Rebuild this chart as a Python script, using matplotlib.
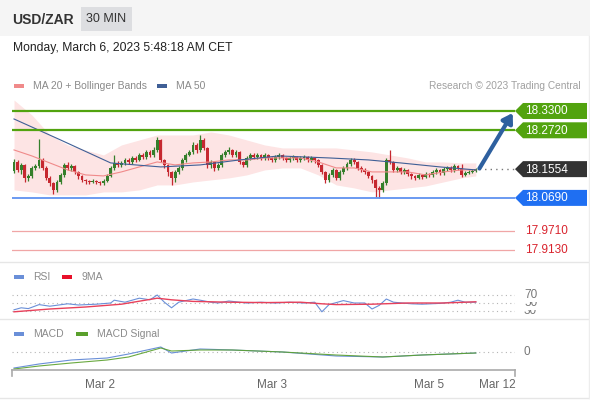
import numpy as np
import matplotlib.pyplot as plt
from matplotlib.patches import Polygon, Rectangle
from matplotlib.transforms import blended_transform_factory

plt.rcParams['font.family'] = ['Liberation Sans', 'DejaVu Sans']

# USD/ZAR 30 min candles
first_open = 18.150
closes = [18.177, 18.153, 18.168, 18.129, 18.135, 18.159, 18.165, 18.183, 18.159, 18.129,
          18.114, 18.093, 18.117, 18.138, 18.168, 18.159, 18.165, 18.147, 18.135, 18.123,
          18.120, 18.117, 18.120, 18.117, 18.114, 18.120, 18.135, 18.159, 18.174, 18.168,
          18.174, 18.183, 18.177, 18.189, 18.183, 18.198, 18.192, 18.207, 18.198, 18.213,
          18.243, 18.183, 18.168, 18.147, 18.129, 18.147, 18.159, 18.183, 18.198, 18.207,
          18.228, 18.213, 18.243, 18.219, 18.168, 18.177, 18.159, 18.168, 18.198, 18.207,
          18.213, 18.198, 18.207, 18.177, 18.168, 18.189, 18.198, 18.192, 18.198, 18.189,
          18.198, 18.189, 18.183, 18.192, 18.198, 18.189, 18.183, 18.189, 18.192, 18.183,
          18.189, 18.192, 18.183, 18.189, 18.183, 18.168, 18.147, 18.123, 18.138, 18.153,
          18.129, 18.147, 18.159, 18.171, 18.183, 18.177, 18.159, 18.153, 18.147, 18.135,
          18.123, 18.099, 18.093, 18.114, 18.183, 18.177, 18.153, 18.159, 18.147, 18.153,
          18.141, 18.135, 18.129, 18.138, 18.132, 18.141, 18.138, 18.147, 18.153, 18.144,
          18.156, 18.159, 18.153, 18.165, 18.159, 18.138, 18.144, 18.147, 18.150, 18.1554]
highs = [18.186, 18.183, 18.174, 18.171, 18.141, 18.165, 18.171, 18.246, 18.189, 18.165,
         18.135, 18.117, 18.123, 18.144, 18.174, 18.177, 18.171, 18.168, 18.150, 18.138,
         18.126, 18.123, 18.126, 18.123, 18.120, 18.126, 18.141, 18.165, 18.198, 18.180,
         18.180, 18.189, 18.189, 18.195, 18.195, 18.204, 18.204, 18.213, 18.213, 18.222,
         18.252, 18.246, 18.186, 18.171, 18.150, 18.153, 18.165, 18.189, 18.204, 18.213,
         18.237, 18.234, 18.258, 18.249, 18.222, 18.183, 18.180, 18.174, 18.204, 18.213,
         18.222, 18.216, 18.213, 18.210, 18.180, 18.195, 18.204, 18.204, 18.204, 18.201,
         18.204, 18.201, 18.192, 18.198, 18.204, 18.201, 18.192, 18.195, 18.198, 18.195,
         18.195, 18.198, 18.195, 18.195, 18.192, 18.186, 18.171, 18.150, 18.144, 18.159,
         18.156, 18.153, 18.165, 18.177, 18.189, 18.189, 18.180, 18.165, 18.159, 18.150,
         18.138, 18.126, 18.105, 18.120, 18.189, 18.213, 18.180, 18.165, 18.162, 18.159,
         18.156, 18.144, 18.138, 18.144, 18.141, 18.147, 18.144, 18.153, 18.159, 18.156,
         18.162, 18.165, 18.165, 18.171, 18.168, 18.171, 18.150, 18.153, 18.156, 18.159]
lows = [18.144, 18.147, 18.141, 18.117, 18.120, 18.129, 18.153, 18.159, 18.153, 18.123,
        18.105, 18.081, 18.087, 18.111, 18.132, 18.153, 18.150, 18.141, 18.126, 18.117,
        18.111, 18.111, 18.114, 18.111, 18.108, 18.108, 18.117, 18.132, 18.153, 18.162,
        18.162, 18.168, 18.171, 18.171, 18.177, 18.180, 18.186, 18.186, 18.192, 18.192,
        18.207, 18.177, 18.159, 18.135, 18.108, 18.117, 18.141, 18.153, 18.177, 18.195,
        18.201, 18.204, 18.207, 18.213, 18.159, 18.159, 18.150, 18.153, 18.162, 18.192,
        18.201, 18.192, 18.192, 18.171, 18.162, 18.162, 18.183, 18.186, 18.186, 18.183,
        18.183, 18.183, 18.177, 18.177, 18.186, 18.183, 18.177, 18.177, 18.183, 18.177,
        18.177, 18.183, 18.177, 18.177, 18.174, 18.162, 18.141, 18.114, 18.117, 18.132,
        18.123, 18.123, 18.141, 18.153, 18.165, 18.171, 18.153, 18.147, 18.141, 18.129,
        18.114, 18.072, 18.069, 18.087, 18.108, 18.171, 18.147, 18.147, 18.141, 18.141,
        18.135, 18.126, 18.123, 18.126, 18.126, 18.129, 18.132, 18.132, 18.141, 18.138,
        18.138, 18.150, 18.147, 18.147, 18.153, 18.132, 18.135, 18.141, 18.144, 18.147]

# MA 20 + Bollinger Bands
bb_idx = [0, 5, 10, 15, 20, 25, 30, 35, 40, 45, 50, 55, 60, 65, 70, 75, 80, 85, 90, 95,
          100, 105, 110, 115, 120, 125, 129]
ma20 = [18.213, 18.195, 18.174, 18.153, 18.138, 18.135, 18.147, 18.162, 18.177, 18.168,
        18.174, 18.177, 18.183, 18.183, 18.189, 18.189, 18.189, 18.177, 18.159, 18.159,
        18.147, 18.147, 18.147, 18.138, 18.147, 18.153, 18.153]
bb_up = [18.363, 18.318, 18.258, 18.228, 18.213, 18.198, 18.228, 18.243, 18.258, 18.258,
         18.258, 18.267, 18.258, 18.243, 18.228, 18.219, 18.219, 18.219, 18.219, 18.213,
         18.207, 18.198, 18.189, 18.177, 18.177, 18.174, 18.174]
bb_lo = [18.093, 18.087, 18.078, 18.078, 18.078, 18.087, 18.087, 18.093, 18.108, 18.108,
         18.117, 18.123, 18.129, 18.138, 18.153, 18.159, 18.159, 18.138, 18.108, 18.099,
         18.087, 18.093, 18.099, 18.105, 18.117, 18.129, 18.135]

# MA 50
ma50_idx = [0, 13, 27, 41, 52, 63, 74, 88, 99, 108, 119, 129]
ma50 = [18.306, 18.243, 18.174, 18.162, 18.168, 18.183, 18.195, 18.189, 18.183, 18.174,
        18.162, 18.153]

res_levels = [18.3300, 18.2720]
sup_level = 18.0690
low_levels = [17.9710, 17.9130]
last_price = 18.1554

# RSI and its 9MA
rsi_idx = [0, 2, 4, 7, 10, 15, 18, 23, 27, 28, 31, 35, 38, 40, 42, 44, 46, 50, 52, 55,
           57, 60, 65, 69, 73, 77, 81, 84, 86, 88, 92, 95, 98, 100, 102, 104, 106, 111,
           114, 119, 122, 124, 126, 129]
rsi = [33, 38, 36, 46, 42, 48, 45, 47, 50, 57, 52, 62, 58, 70, 52, 38, 52, 60, 57, 52,
       50, 55, 50, 52, 50, 52, 50, 52, 28, 46, 56, 50, 50, 35, 44, 60, 52, 48,
       47, 49, 52, 57, 52, 52]
rsi_ma_idx = [0, 10, 20, 30, 40, 44, 50, 60, 70, 80, 86, 90, 100, 110, 120, 129]
rsi_ma = [28, 35, 40, 47, 62, 58, 54, 52, 51, 52, 48, 46, 47, 50, 50, 53]

# MACD
macd_idx = [0, 7, 16, 26, 32, 41, 44, 52, 61, 75, 90, 103, 114, 129]
macd = [-0.016, -0.012, -0.008, -0.006, -0.002, 0.005, -0.001, 0.003, 0.002, 0.000,
        -0.004, -0.005, -0.003, -0.001]
macd_sig = [-0.017, -0.014, -0.011, -0.008, -0.005, 0.004, 0.001, 0.002, 0.002, 0.000,
            -0.003, -0.005, -0.003, -0.001]

day_ticks = [24, 72, 116, 135]
day_labels = ['Mar 2', 'Mar 3', 'Mar 5', 'Mar 12']

W, H = 590, 400
GREEN, RED = '#357f2b', '#c62830'
LVL_GREEN = '#52a30f'
GREY_TXT = '#8a8a8a'

fig = plt.figure(figsize=(W / 100, H / 100), dpi=100)
fig.patch.set_facecolor('white')


def box(y0, y1):
    return [12 / W, 1 - y1 / H, 503 / W, (y1 - y0) / H]


xlim = (-0.56, 139.94)

# main price panel
ax = fig.add_axes(box(95, 260))
ax.set_xlim(*xlim)
ax.set_ylim(17.8825, 18.378)
ax.axis('off')

x = np.arange(len(closes))
opens = np.array([first_open] + closes[:-1])
c = np.array(closes)
up = c >= opens
colors = np.where(up, GREEN, RED)

ax.fill_between(bb_idx, bb_lo, bb_up, color='#fde4e4', lw=0, zorder=1)
ax.vlines(x, lows, highs, colors=colors, lw=0.9, zorder=3)
body_lo = np.minimum(opens, c)
body_h = np.maximum(np.abs(c - opens), 0.002)
ax.bar(x, body_h, bottom=body_lo, width=0.8, color=colors, lw=0, zorder=3)
ax.plot(bb_idx, ma20, color='#f08a8a', lw=0.8, zorder=4)
ax.plot(ma50_idx, ma50, color='#3f5f96', lw=0.8, zorder=4)

for lv in res_levels:
    ax.axhline(lv, color=LVL_GREEN, lw=1.6, zorder=5)
ax.axhline(sup_level, color='#5f92f0', lw=1.3, zorder=5)
for lv in low_levels:
    ax.axhline(lv, color='#f0a6a6', lw=0.9, zorder=5)
ax.plot([x[-1] + 0.8, xlim[1]], [last_price, last_price], color='#777777',
        lw=1, ls=(0, (1, 3)), zorder=5)
ax.annotate('', xy=(139.3, 18.324), xytext=(x[-1] + 1.0, last_price + 0.002),
            arrowprops=dict(arrowstyle='-|>,head_width=0.35,head_length=0.55',
                            color='#2e609f', lw=3, shrinkA=0, shrinkB=0), zorder=6)

# RSI panel
ax_rsi = fig.add_axes(box(282, 318))
ax_rsi.set_xlim(*xlim)
ax_rsi.set_ylim(12.5, 102.5)
ax_rsi.axis('off')
for lv in [70, 50, 30]:
    ax_rsi.axhline(lv, color='#b5b5b5', lw=0.8, ls=(0, (1, 3)))
ax_rsi.plot(rsi_idx, rsi, color='#6a8fd8', lw=0.8)
ax_rsi.plot(rsi_ma_idx, rsi_ma, color='#e8405a', lw=1.0)

# MACD panel
ax_m = fig.add_axes(box(322, 370))
ax_m.set_xlim(*xlim)
ax_m.set_ylim(-0.018, 0.030)
ax_m.set_facecolor('none')
for s in ['top', 'right', 'left']:
    ax_m.spines[s].set_visible(False)
ax_m.spines['bottom'].set_color('#aaaaaa')
ax_m.spines['bottom'].set_linewidth(1.2)
ax_m.set_yticks([])
ax_m.set_xticks(day_ticks, day_labels)
ax_m.tick_params(axis='x', length=0, pad=6.5, labelsize=8.5, labelcolor='#666666')
for xe in [0, 1]:
    ax_m.plot([xe, xe], [0, -0.13], transform=ax_m.transAxes, clip_on=False,
              color='#aaaaaa', lw=1.2)
ax_m.axhline(0, color='#b5b5b5', lw=0.8, ls=(0, (1, 3)))
ax_m.plot(macd_idx, macd, color='#6a8fd8', lw=0.8)
ax_m.plot(macd_idx, macd_sig, color='#5aa02c', lw=0.8, alpha=0.9)

# overlay for header, legends and tags (pixel coordinates)
ov = fig.add_axes([0, 0, 1, 1], zorder=10)
ov.set_xlim(0, W)
ov.set_ylim(H, 0)
ov.axis('off')
ov.patch.set_alpha(0)

ov.add_patch(Rectangle((0, 0), W, 36, color='#f5f5f5', lw=0, zorder=0))
ov.add_patch(Rectangle((81, 7), 51, 24, color='#dddee1', lw=0, zorder=1))
ov.text(12, 19.5, 'USD/ZAR', fontsize=10, fontweight='bold', color='#333333', va='center')
ov.text(106.5, 19.5, '30 MIN', fontsize=9, color='#333333', va='center', ha='center')
ov.text(13, 48, 'Monday, March 6, 2023 5:48:18 AM CET', fontsize=8.7, color='#222222',
        va='center')

for yy in [262, 318.5]:
    ov.plot([0, W], [yy, yy], color='#e6e6e6', lw=1)
ov.plot([0, W], [398, 398], color='#e6e6e6', lw=1)
ov.plot([588.5, 588.5], [36, 398], color='#ededed', lw=1)


def legend_item(x0, y0, col, label, width=10):
    ov.add_patch(Rectangle((x0, y0 - 2), width, 4, color=col, lw=0))
    ov.text(x0 + width + 9, y0, label, fontsize=7.5, color=GREY_TXT, va='center')


legend_item(14, 86, '#f08a8a', 'MA 20 + Bollinger Bands')
legend_item(157, 86, '#3f5f96', 'MA 50')
ov.text(581, 86, 'Research \u00a9 2023 Trading Central', fontsize=7.3, color='#a0a0a0',
        va='center', ha='right')
legend_item(14, 277, '#6a8fd8', 'RSI')
legend_item(62, 277, '#e8102a', '9MA')
legend_item(14, 334, '#6a8fd8', 'MACD')
legend_item(76, 334, '#5aa02c', 'MACD Signal', width=12)


def to_px(axis, val):
    return H - axis.transData.transform((0, val))[1]


def tag(price, col, label):
    yc = to_px(ax, price)
    h = 8
    ov.add_patch(Polygon([(515, yc), (523, yc - h), (587, yc - h), (587, yc + h),
                          (523, yc + h)], closed=True, color=col, lw=0, zorder=5))
    ov.text(525, yc + 0.5, label, fontsize=8.5, color='white', va='center', zorder=6)


for lv in res_levels:
    tag(lv, LVL_GREEN, f'{lv:.4f}')
tag(last_price, '#333333', f'{last_price:.4f}')
tag(sup_level, '#1f6ff2', f'{sup_level:.4f}')
for lv in low_levels:
    ov.text(525, to_px(ax, lv) + 0.5, f'{lv:.4f}', fontsize=8.5, color='#d9232d',
            va='center')

tr_rsi = blended_transform_factory(ov.transData, ax_rsi.transData)
for i, lv in enumerate([30, 50, 70]):
    ov.text(524, lv, str(lv), transform=tr_rsi, fontsize=8.5, color='#777777',
            va='center', zorder=7 + i,
            bbox=dict(boxstyle='square,pad=0.05', fc='white', ec='none'))
tr_m = blended_transform_factory(ov.transData, ax_m.transData)
ov.text(524, 0, '0', transform=tr_m, fontsize=8.5, color='#777777', va='center')

fig.savefig('out.png', dpi=100)
